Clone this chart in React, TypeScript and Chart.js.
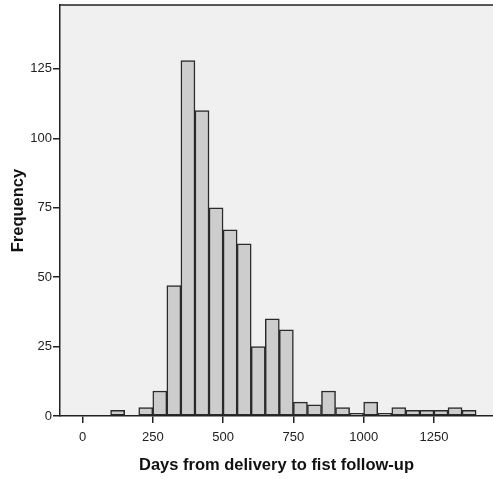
import React, { useEffect, useRef } from "react";
import { Chart, registerables } from "chart.js";

Chart.register(...registerables);

const binStarts = [100, 200, 250, 300, 350, 400, 450, 500, 550, 600, 650, 700, 750, 800, 850, 900, 950, 1000, 1050, 1100, 1150, 1200, 1250, 1300, 1350];
const binWidth = 50;
const counts = [2, 3, 9, 47, 128, 110, 75, 67, 62, 25, 35, 31, 5, 4, 9, 3, 1, 5, 1, 3, 2, 2, 2, 3, 2];
const xTicks = [0, 250, 500, 750, 1000, 1250];
const yTicks = [0, 25, 50, 75, 100, 125];
const xTitle = "Days from delivery to fist follow-up";
const yTitle = "Frequency";

const framePlugin = {
  id: "frame",
  beforeDraw(chart: any) {
    const { ctx, chartArea } = chart;
    ctx.save();
    ctx.fillStyle = "#f0f0f0";
    ctx.fillRect(chartArea.left, chartArea.top, chartArea.right - chartArea.left, chartArea.bottom - chartArea.top);
    ctx.restore();
  },
  afterDraw(chart: any) {
    const { ctx, chartArea } = chart;
    ctx.save();
    ctx.strokeStyle = "#222";
    ctx.lineWidth = 1.5;
    ctx.beginPath();
    ctx.moveTo(chartArea.left, chartArea.top);
    ctx.lineTo(chartArea.right, chartArea.top);
    ctx.stroke();
    ctx.restore();
  },
};

export default function App() {
  const ref = useRef<HTMLCanvasElement>(null);
  useEffect(() => {
    document.body.style.margin = "0";
    Chart.defaults.font.family = "'Liberation Sans', Arial, sans-serif";
    const data = binStarts.map((s, i) => ({ x: s + binWidth / 2, y: counts[i] }));
    const chart = new Chart(ref.current!, {
      type: "bar",
      data: {
        datasets: [
          {
            data,
            backgroundColor: "#cdcdcd",
            borderColor: "#2a2a2a",
            borderWidth: 1.5,
            borderSkipped: false,
            barPercentage: 1,
            categoryPercentage: 1,
          } as any,
        ],
      },
      options: {
        animation: false,
        responsive: false,
        maintainAspectRatio: false,
        layout: { padding: { top: 5, right: 0, left: 0, bottom: 0 } },
        plugins: { legend: { display: false }, tooltip: { enabled: false } },
        scales: {
          x: {
            type: "linear",
            min: -80,
            max: 1460,
            offset: false,
            afterBuildTicks: (s: any) => {
              s.ticks = xTicks.map((v) => ({ value: v }));
            },
            afterFit: (s: any) => {
              s.height = 63;
              s.paddingLeft = 0;
              s.paddingRight = 0;
            },
            grid: { display: true, offset: false, drawOnChartArea: false, drawTicks: true, tickLength: 7, color: "#222", lineWidth: 1.5 },
            border: { display: true, color: "#222", width: 1.5 },
            ticks: { color: "#222", font: { size: 13 }, padding: 7, maxRotation: 0, autoSkip: false, callback: (v: any) => String(v) },
            title: { display: true, text: xTitle, color: "#111", font: { size: 16.5, weight: "bold" }, padding: { top: 4, bottom: 4 } },
          },
          y: {
            type: "linear",
            min: 0,
            max: 148,
            afterBuildTicks: (s: any) => {
              s.ticks = yTicks.map((v) => ({ value: v }));
            },
            afterFit: (s: any) => {
              s.width = 60;
              s.paddingTop = 0;
              s.paddingBottom = 0;
            },
            grid: { display: true, offset: false, drawOnChartArea: false, drawTicks: true, tickLength: 7, color: "#222", lineWidth: 1.5 },
            border: { display: true, color: "#222", width: 1.5 },
            ticks: { color: "#222", font: { size: 13 }, padding: 1, autoSkip: false, callback: (v: any) => String(v) },
            title: { display: true, text: yTitle, color: "#111", font: { size: 16.5, weight: "bold" }, padding: { top: 9, bottom: 0 } },
          },
        },
      },
      plugins: [framePlugin],
    });
    return () => chart.destroy();
  }, []);
  return (
    <div style={{ width: 493, height: 479 }}>
      <canvas ref={ref} width={493} height={479} style={{ width: 493, height: 479 }} />
    </div>
  );
}
